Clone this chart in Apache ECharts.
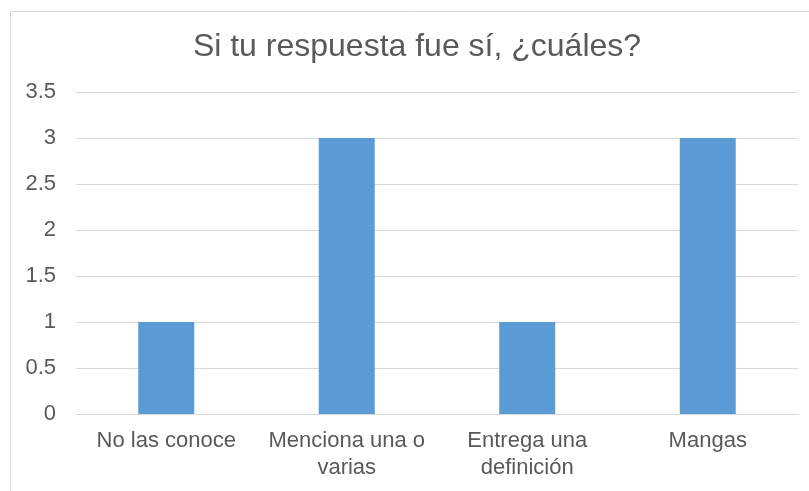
<!DOCTYPE html>
<html>
<head>
<meta charset="utf-8">
<script src="https://cdn.jsdelivr.net/npm/echarts@6/dist/echarts.min.js"></script>
<style>
  html, body { margin: 0; padding: 0; background: #fff; }
  #main { width: 809px; height: 491px; }
</style>
</head>
<body>
<div id="main"></div>
<script>
var categories = ['No las conoce', 'Menciona una o\nvarias', 'Entrega una\ndefinición', 'Mangas'];
var values = [1, 3, 1, 3];
var yTicks = [0, 0.5, 1, 1.5, 2, 2.5, 3, 3.5];

var myChart = echarts.init(document.getElementById('main'));

var option = {
  animation: false,
  textStyle: { fontFamily: 'Liberation Sans, Arial, sans-serif' },
  graphic: [
    {
      type: 'rect',
      shape: { x: 10.5, y: 11.5, width: 900, height: 600 },
      style: { fill: 'none', stroke: '#d9d9d9', lineWidth: 1 },
      silent: true
    }
  ],
  title: {
    text: 'Si tu respuesta fue sí, ¿cuáles?',
    left: 412,
    textAlign: 'center',
    top: 26,
    textStyle: { fontSize: 32, fontWeight: 'normal', color: '#595959', fontFamily: 'Liberation Sans, Arial, sans-serif' }
  },
  grid: { left: 76, right: 11, top: 92, bottom: 77, containLabel: false },
  xAxis: {
    type: 'category',
    data: categories,
    axisLine: { lineStyle: { color: '#d9d9d9', width: 1 } },
    axisTick: { show: false },
    axisLabel: { color: '#595959', fontSize: 22, margin: 13, lineHeight: 27, interval: 0 }
  },
  yAxis: {
    type: 'value',
    min: yTicks[0],
    max: yTicks[yTicks.length - 1],
    interval: 0.5,
    axisLine: { show: false },
    axisTick: { show: false },
    splitLine: { lineStyle: { color: '#d9d9d9', width: 1 } },
    axisLabel: { color: '#595959', fontSize: 22, margin: 20 }
  },
  series: [
    {
      type: 'bar',
      data: values,
      barWidth: 56,
      itemStyle: { color: '#5b9bd5' }
    }
  ]
};

myChart.setOption(option);
</script>
</body>
</html>
